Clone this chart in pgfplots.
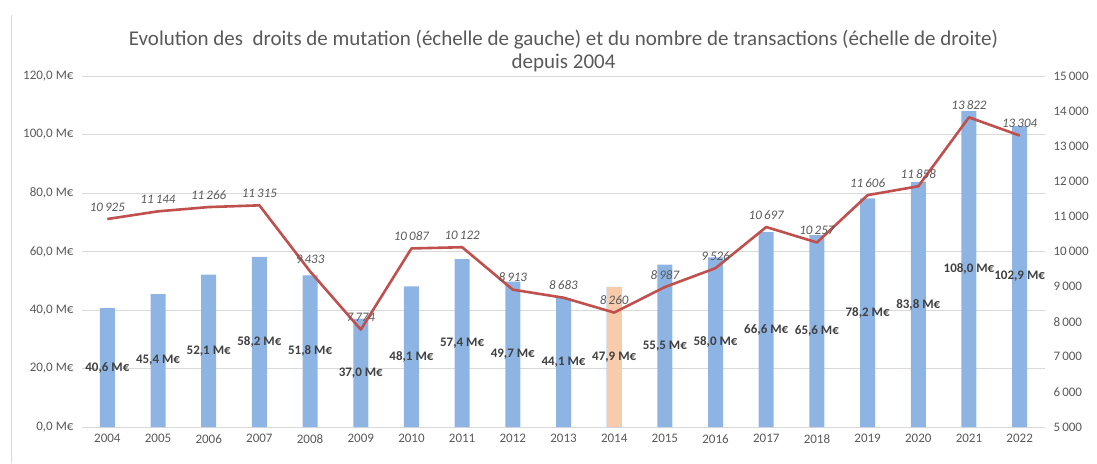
\documentclass[border=0pt]{standalone}
\usepackage{pgfplots}
\pgfplotsset{compat=1.18}
\usepackage{pgfplotstable}
\usepackage{fontspec}
\setmainfont{Carlito}
\definecolor{barblue}{RGB}{141,180,226}
\definecolor{barpeach}{RGB}{248,203,173}
\definecolor{linered}{RGB}{192,80,77}
\definecolor{txtgray}{RGB}{89,89,89}
\definecolor{lblgray}{RGB}{64,64,64}
\definecolor{gridgray}{RGB}{217,217,217}
\pgfplotsset{/pgf/number format/assume math mode=true}

\pgfplotstableread{
x v n
0 40.6 10925
1 45.4 11144
2 52.1 11266
3 58.2 11315
4 51.8 9433
5 37.0 7774
6 48.1 10087
7 57.4 10122
8 49.7 8913
9 44.1 8683
10 47.9 8260
11 55.5 8987
12 58.0 9526
13 66.6 10697
14 65.6 10257
15 78.2 11606
16 83.8 11858
17 108.0 13822
18 102.9 13304
}\data

\begin{document}
\begin{tikzpicture}
\useasboundingbox (-82pt,-36pt) rectangle (1015pt,427pt);
\draw[gridgray, line width=0.8pt] (-71pt,-36pt) -- (-71pt,412pt);
\node[font=\fontsize{21}{24}\selectfont, text=txtgray] at (481.5pt,387pt) {Evolution des\ \ droits de mutation (échelle de gauche) et du nombre de transactions (échelle de droite)};
\node[font=\fontsize{21}{24}\selectfont, text=txtgray] at (481.5pt,364pt) {depuis 2004};
\begin{axis}[
  at={(0,0)}, anchor=south west,
  scale only axis, width=963pt, height=351pt,
  xmin=-0.5, xmax=18.5, ymin=0, ymax=120,
  axis x line*=bottom, axis y line*=left,
  x axis line style={draw=gridgray, line width=0.8pt, -},
  y axis line style={draw=none},
  ytick={0,20,...,120}, ymajorgrids,
  grid style={draw=gridgray, line width=0.8pt},
  xtick={0,...,18},
  xticklabels={2004,2005,2006,2007,2008,2009,2010,2011,2012,2013,2014,2015,2016,2017,2018,2019,2020,2021,2022},
  major tick length=0pt,
  tick label style={font=\fontsize{13}{15}\selectfont, text=txtgray},
  x tick label style={yshift=-4pt},
  y tick label style={xshift=-5pt},
  yticklabel={\pgfmathprintnumber[fixed,fixed zerofill,precision=1,use comma]{\tick}~M€},
  clip=false,
]
\addplot[ybar, bar width=15pt, bar shift=0pt, fill=barblue, draw=none] table[x=x, y=v] {\data};
\addplot[ybar, bar width=15pt, bar shift=0pt, fill=barpeach, draw=none] coordinates {(10,47.9)};
\end{axis}
\begin{axis}[
  at={(0,0)}, anchor=south west,
  scale only axis, width=963pt, height=351pt,
  xmin=-0.5, xmax=18.5, ymin=5000, ymax=15000,
  axis x line=none, axis y line*=right,
  y axis line style={draw=none},
  ytick={5000,6000,...,15000},
  scaled y ticks=false,
  major tick length=0pt,
  tick label style={font=\fontsize{13}{15}\selectfont, text=txtgray},
  y tick label style={xshift=5pt},
  yticklabel={\pgfmathprintnumber[fixed,precision=0,1000 sep={\,}]{\tick}},
  clip=false,
]
\addplot[linered, line width=2.6pt, mark=none, line join=round,
  nodes near coords={\pgfmathprintnumber[fixed,precision=0,1000 sep={\,}]{\pgfplotspointmeta}},
  point meta=explicit,
  every node near coord/.append style={font=\fontsize{13}{15}\selectfont\itshape, text=txtgray, anchor=south, yshift=3pt}]
  table[x=x, y=n, meta=n] {\data};
\end{axis}
\begin{axis}[
  at={(0,0)}, anchor=south west,
  scale only axis, width=963pt, height=351pt,
  xmin=-0.5, xmax=18.5, ymin=0, ymax=120,
  hide axis, clip=false,
]
\addplot[draw=none, mark=none,
  nodes near coords={\pgfmathprintnumber[fixed,fixed zerofill,precision=1,use comma]{\pgfplotspointmeta}~M€},
  point meta=explicit,
  every node near coord/.append style={font=\fontsize{13}{15}\selectfont\bfseries, text=lblgray, anchor=center}]
  table[x=x, y expr=\thisrow{v}/2, meta=v] {\data};
\end{axis}
\end{tikzpicture}
\end{document}
